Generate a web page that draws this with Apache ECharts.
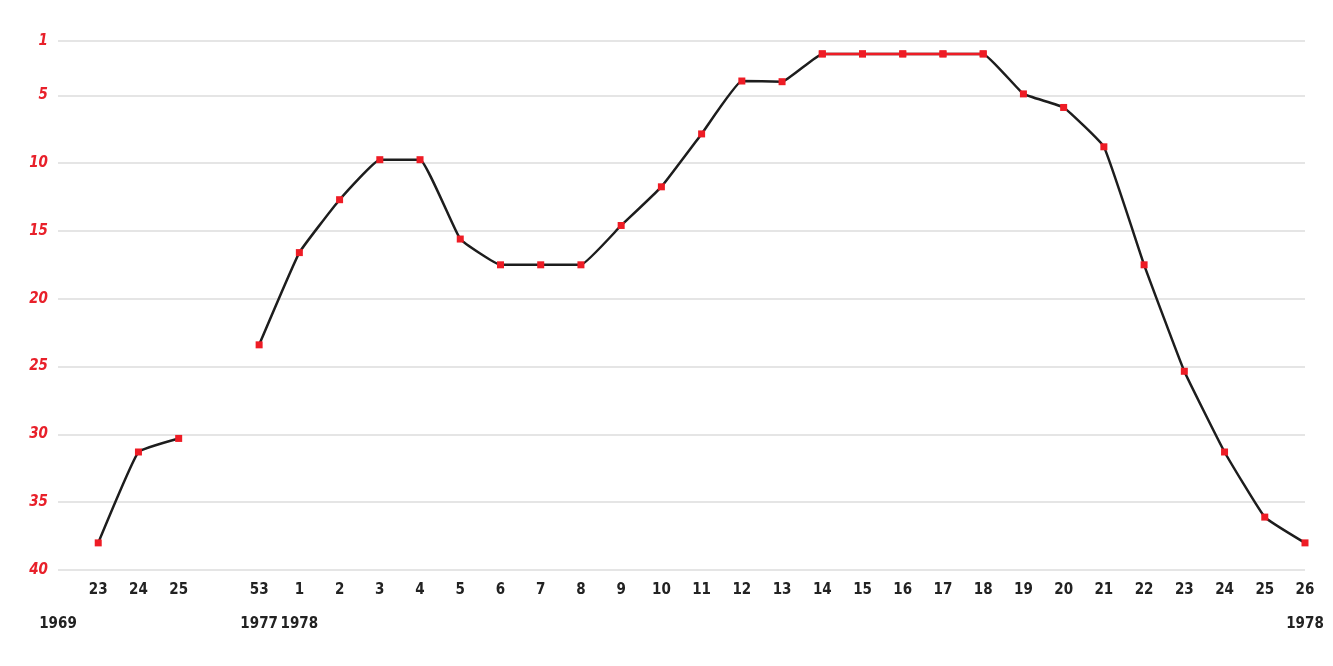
<!DOCTYPE html>
<html>
<head>
<meta charset="utf-8">
<script src="https://cdn.jsdelivr.net/npm/echarts@6/dist/echarts.min.js"></script>
<style>
html,body{margin:0;padding:0;background:#fff;}
#chart{width:1333px;height:666px;}
</style>
</head>
<body>
<div id="chart"></div>
<script>
// Week labels (first and fifth slots are empty spacers)
const weeks = ['', '23', '24', '25', '', '53', '1', '2', '3', '4', '5', '6', '7', '8', '9', '10', '11', '12', '13', '14', '15', '16', '17', '18', '19', '20', '21', '22', '23', '24', '25', '26'];
// Year labels under the week labels
const years = ['1969', '', '', '', '', '1977', '1978', '', '', '', '', '', '', '', '', '', '', '', '', '', '', '', '', '', '', '', '', '', '', '', '', '1978'];
// Chart positions
const positions = [null, 38.0, 31.3, 30.3, null, 23.4, 16.6, 12.7, 9.75, 9.75, 15.6, 17.5, 17.5, 17.5, 14.6, 11.75, 7.85, 3.95, 4.0, 1.95, 1.95, 1.95, 1.95, 1.95, 4.9, 5.9, 8.8, 17.5, 25.35, 31.3, 36.1, 38.0];
// Indices of the highlighted (red) stretch
const highlightFrom = 19;
const highlightTo = 23;
// Y axis tick labels
const yTicks = [1, 5, 10, 15, 20, 25, 30, 35, 40];

const highlight = positions.map((v, i) => (i >= highlightFrom && i <= highlightTo) ? v : '-');
const mainData = positions.map(v => v === null ? '-' : v);

const chart = echarts.init(document.getElementById('chart'), null, {renderer: 'canvas'});
const FONT = '"DejaVu Sans Condensed", "DejaVu Sans", sans-serif';
chart.setOption({
  animation: false,
  backgroundColor: '#ffffff',
  grid: {left: 58, right: 28, top: 41, bottom: 96, containLabel: false},
  xAxis: {
    type: 'category',
    data: weeks,
    boundaryGap: false,
    axisLine: {show: false},
    axisTick: {show: false},
    splitLine: {show: false},
    axisLabel: {
      interval: 0,
      margin: 10,
      formatter: function (val, idx) {
        const w = val === '' ? ' ' : val;
        const y = years[idx];
        return y ? '{w|' + w + '}\n{y|' + y + '}' : '{w|' + w + '}';
      },
      rich: {
        w: {fontFamily: FONT, fontWeight: 'bold', fontSize: 15, color: '#222', lineHeight: 20},
        y: {fontFamily: FONT, fontWeight: 'bold', fontSize: 15, color: '#222', lineHeight: 48}
      }
    }
  },
  yAxis: {
    type: 'value',
    inverse: true,
    min: 1,
    max: 40,
    axisLine: {show: false},
    axisTick: {show: false, customValues: yTicks},
    splitLine: {show: true, lineStyle: {color: '#dddddd', width: 1.5}},
    axisLabel: {
      customValues: yTicks,
      margin: 10,
      fontFamily: FONT,
      fontWeight: 'bold',
      fontStyle: 'italic',
      fontSize: 15,
      color: '#e8202a'
    }
  },
  series: [
    {
      type: 'line',
      data: mainData,
      smooth: 0.1,
      connectNulls: false,
      symbol: 'rect',
      symbolSize: 7,
      itemStyle: {color: '#ee1c25'},
      lineStyle: {color: '#1d1d1d', width: 2.5},
      z: 2
    },
    {
      type: 'line',
      data: highlight,
      smooth: 0.1,
      symbol: 'rect',
      symbolSize: 7,
      itemStyle: {color: '#ee1c25'},
      lineStyle: {color: '#ee1c25', width: 2.5},
      z: 3
    }
  ]
});
</script>
</body>
</html>
